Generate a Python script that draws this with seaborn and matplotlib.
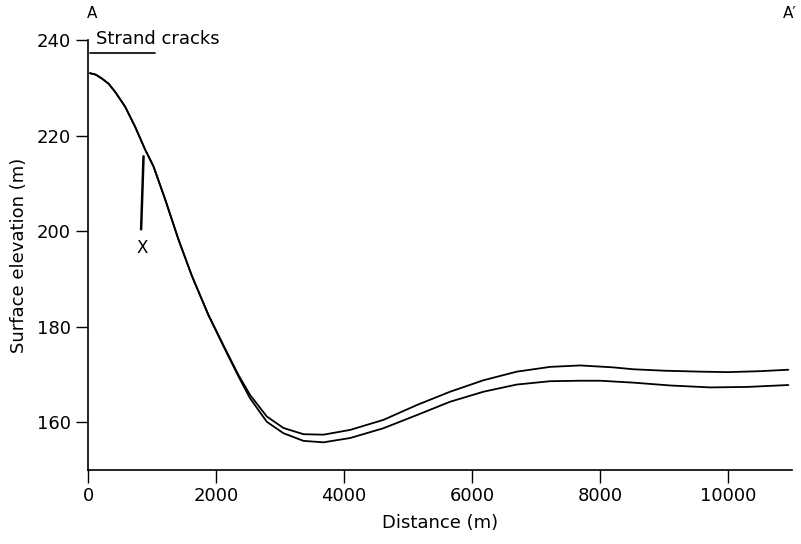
import pandas as pd
import matplotlib
matplotlib.use("Agg")
import matplotlib.pyplot as plt
import seaborn as sns

# Surface profile A-A' : two surveys along the same line
distance_upper = [30, 120, 214, 320, 422, 578, 734, 891, 1021, 1203, 1411, 1620,
                  1880, 2141, 2349, 2531, 2792, 3052, 3365, 3677, 4094, 4614,
                  5135, 5656, 6177, 6698, 7219, 7688, 8200, 8516, 9000, 9563,
                  10000, 10500, 10940]
elev_upper = [233.1, 232.8, 232.0, 230.9, 229.2, 226.1, 221.9, 217.1, 213.6,
              206.7, 198.3, 190.7, 182.5, 175.4, 169.9, 165.7, 161.2, 158.8,
              157.5, 157.4, 158.4, 160.5, 163.6, 166.4, 168.8, 170.6, 171.6,
              171.9, 171.5, 171.1, 170.8, 170.6, 170.5, 170.7, 171.0]

distance_lower = [30, 120, 214, 320, 422, 578, 734, 891, 1021, 1203, 1411, 1620,
                  1880, 2141, 2349, 2531, 2792, 3052, 3365, 3677, 4094, 4614,
                  5135, 5656, 6177, 6698, 7219, 7688, 8000, 8516, 9100, 9719,
                  10300, 10940]
elev_lower = [233.1, 232.8, 232.0, 230.9, 229.2, 226.1, 221.9, 217.1, 213.6,
              206.7, 198.3, 190.7, 182.4, 175.2, 169.6, 165.0, 160.1, 157.7,
              156.1, 155.8, 156.7, 158.75, 161.5, 164.3, 166.4, 167.9, 168.6,
              168.7, 168.7, 168.3, 167.7, 167.3, 167.4, 167.8]

x_ticks = [0, 2000, 4000, 6000, 8000, 10000]
y_ticks = [160, 180, 200, 220, 240]

profile = pd.DataFrame({
    "Distance (m)": distance_upper + distance_lower,
    "Surface elevation (m)": elev_upper + elev_lower,
    "survey": ["upper"] * len(distance_upper) + ["lower"] * len(distance_lower),
})

sns.set_style("ticks")
plt.rcParams["font.family"] = ["DejaVu Sans"]
plt.rcParams["text.color"] = "black"
plt.rcParams["axes.labelcolor"] = "black"

fig = plt.figure(figsize=(8.01, 5.44), dpi=100)
ax = fig.add_axes([0.110, 0.136, 0.879, 0.790])

sns.lineplot(data=profile, x="Distance (m)", y="Surface elevation (m)",
             hue="survey", palette=["black", "black"], estimator=None,
             sort=False, linewidth=1.3, legend=False, ax=ax,
             solid_joinstyle="round", solid_capstyle="round")

ax.set_xlim(0, 11000)
ax.set_ylim(150, 240)
ax.set_xticks(x_ticks)
ax.set_yticks(y_ticks)
ax.tick_params(axis="both", direction="out", length=9, width=1.0,
               labelsize=13, colors="black")
ax.set_xlabel("Distance (m)", fontsize=13, labelpad=6)
ax.set_ylabel("Surface elevation (m)", fontsize=13, labelpad=6)
sns.despine(ax=ax)
for side in ("left", "bottom"):
    ax.spines[side].set_linewidth(1.2)
    ax.spines[side].set_color("black")

# Strand cracks zone near the head of the profile
ax.plot([30, 1050], [237.3, 237.3], color="black", lw=1.2, clip_on=False)
ax.text(125, 238.3, "Strand cracks", fontsize=13, ha="left", va="bottom")

# Marker X
ax.plot([866, 828], [215.7, 200.4], color="black", lw=1.8)
ax.text(848, 196.5, "X", fontsize=12, ha="center", va="center")

# Section endpoints
fig.text(92 / 801, 1 - 13 / 544, "A", fontsize=11, ha="center", va="center")
fig.text(790 / 801, 1 - 14 / 544, "A\u2032", fontsize=11, ha="center", va="center")

fig.savefig("out.png", dpi=100, facecolor="white")
